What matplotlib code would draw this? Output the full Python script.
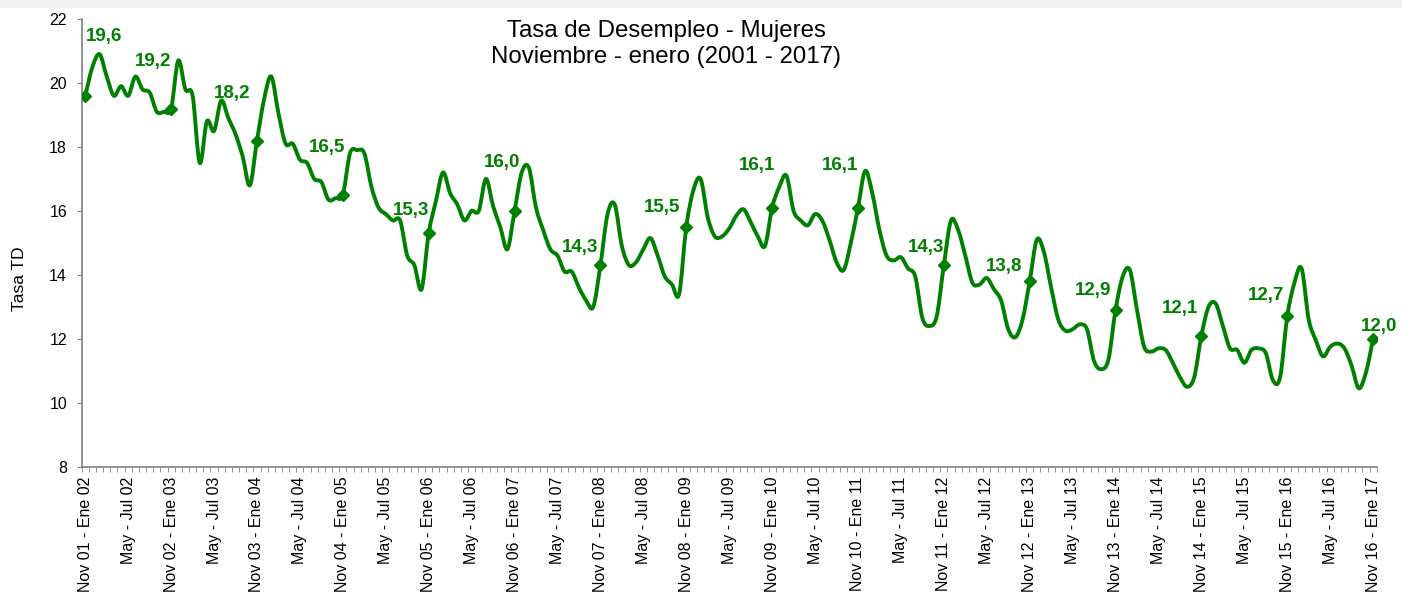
import numpy as np
import matplotlib
matplotlib.use("Agg")
import matplotlib.pyplot as plt
from matplotlib.path import Path
from matplotlib.patches import PathPatch, Rectangle

plt.rcParams["font.family"] = ["Liberation Sans", "DejaVu Sans"]

# Tasa de desempleo mujeres, trimestres móviles nov01-ene02 ... nov16-ene17
tasa = [
    19.6, 20.5, 20.9, 20.2, 19.6, 19.9, 19.6, 20.2, 19.8, 19.7, 19.1, 19.1,
    19.2, 20.7, 19.8, 19.6, 17.5, 18.8, 18.5, 19.45, 18.9, 18.4, 17.7, 16.8,
    18.2, 19.5, 20.2, 19.05, 18.1, 18.1, 17.6, 17.5, 17.0, 16.9, 16.35, 16.4,
    16.5, 17.8, 17.9, 17.8, 16.75, 16.1, 15.9, 15.7, 15.7, 14.6, 14.3, 13.55,
    15.3, 16.3, 17.2, 16.55, 16.2, 15.7, 16.0, 16.0, 17.0, 16.15, 15.5, 14.8,
    16.0, 17.2, 17.35, 16.1, 15.4, 14.8, 14.6, 14.1, 14.1, 13.6, 13.2, 13.0,
    14.3, 15.9, 16.2, 14.9, 14.3, 14.4, 14.8, 15.15, 14.6, 13.95, 13.7, 13.4,
    15.5, 16.65, 17.0, 15.8, 15.2, 15.2, 15.45, 15.85, 16.05, 15.65, 15.2, 14.9,
    16.1, 16.75, 17.1, 16.0, 15.7, 15.55, 15.9, 15.7, 15.1, 14.4, 14.15, 15.0,
    16.1, 17.25, 16.55, 15.4, 14.6, 14.45, 14.55, 14.2, 13.95, 12.65, 12.4, 12.7,
    14.3, 15.7, 15.4, 14.6, 13.75, 13.7, 13.9, 13.55, 13.2, 12.3, 12.05, 12.6,
    13.8, 15.1, 14.7, 13.6, 12.6, 12.25, 12.3, 12.45, 12.3, 11.3, 11.05, 11.35,
    12.9, 13.95, 14.15, 12.9, 11.75, 11.6, 11.7, 11.65, 11.25, 10.8, 10.5, 10.8,
    12.1, 13.0, 13.1, 12.4, 11.7, 11.65, 11.25, 11.65, 11.7, 11.55, 10.7, 10.8,
    12.7, 13.75, 14.2, 12.6, 11.95, 11.45, 11.75, 11.85, 11.7, 11.15, 10.45, 10.95,
    12.0,
]

# etiquetas del eje x (cada 6 trimestres móviles)
etiquetas_x = []
for a in range(1, 17):
    etiquetas_x.append(f"Nov {a:02d} - Ene {a + 1:02d}")
    if a < 16:
        etiquetas_x.append(f"May - Jul {a + 1:02d}")

# valores rotulados (trimestre nov-ene de cada año)
rotulos = ["19,6", "19,2", "18,2", "16,5", "15,3", "16,0", "14,3", "15,5",
           "16,1", "16,1", "14,3", "13,8", "12,9", "12,1", "12,7", "12,0"]
# desplazamiento de cada rótulo respecto al marcador (pixeles)
rot_dx = [19, -18, -25, -16, -18, -12, -20, -24, -15, -18, -18, -26, -22, -21, -21, 6]
rot_dy = [59, 47, 47, 47, 23, 48, 18, 19, 42, 42, 18, 15, 20, 27, 21, 12]

VERDE = "#008000"


def curva_suave(x, y):
    """Path bezier tipo Excel (catmull-rom) que pasa por todos los puntos."""
    n = len(x)
    verts = [(x[0], y[0])]
    codes = [Path.MOVETO]
    for i in range(n - 1):
        p0 = (x[max(i - 1, 0)], y[max(i - 1, 0)])
        p1 = (x[i], y[i])
        p2 = (x[i + 1], y[i + 1])
        p3 = (x[min(i + 2, n - 1)], y[min(i + 2, n - 1)])
        c1 = (p1[0] + (p2[0] - p0[0]) / 6, p1[1] + (p2[1] - p0[1]) / 6)
        c2 = (p2[0] - (p3[0] - p1[0]) / 6, p2[1] - (p3[1] - p1[1]) / 6)
        verts += [c1, c2, p2]
        codes += [Path.CURVE4] * 3
    return Path(verts, codes)


fig = plt.figure(figsize=(14.02, 5.94), dpi=100)
fig.patches.append(Rectangle((0, 1 - 7 / 594), 1, 7 / 594, transform=fig.transFigure,
                             color="#f2f2f2", zorder=0))
ax = fig.add_axes([81.7 / 1402, 1 - 466.7 / 594, 1295 / 1402, 447.7 / 594])

x = np.arange(len(tasa))
y = np.array(tasa)
ax.add_patch(PathPatch(curva_suave(x, y), facecolor="none", edgecolor=VERDE,
                       linewidth=2.8, capstyle="round", joinstyle="round", zorder=3))

idx_nov = x[::12]
ax.plot(idx_nov, y[::12], linestyle="none", marker="D", markersize=6.5,
        color=VERDE, zorder=4)
for k, i in enumerate(idx_nov):
    ax.annotate(rotulos[k], (i, y[i]), xytext=(rot_dx[k] * 0.72, rot_dy[k] * 0.72),
                textcoords="offset points", ha="center", va="center",
                fontsize=13.5, fontweight="bold", color=VERDE, zorder=5)

ax.set_xlim(-0.5, len(tasa) - 0.5)
ax.set_ylim(8, 22)
ax.set_yticks(np.arange(8, 23, 2))
ax.set_xticks(x[::6])
ax.set_xticklabels(etiquetas_x, rotation=90, fontsize=11.5)
ax.set_xticks(np.arange(-0.5, len(tasa), 1), minor=True)
ax.tick_params(axis="x", which="major", length=0, pad=7.2)
ax.tick_params(axis="x", which="minor", length=3.5, color="#808080")
ax.tick_params(axis="y", length=3.5, color="#808080", pad=7, labelsize=11.5)

for s in ["top", "right"]:
    ax.spines[s].set_visible(False)
for s in ["left", "bottom"]:
    ax.spines[s].set_color("#808080")
    ax.spines[s].set_linewidth(1.2)

ax.set_ylabel("Tasa TD", fontsize=12.5)
ax.yaxis.set_label_coords(-55 / 1295, (466.7 - 279) / 447.7)

fig.text(666 / 1402, 1 - 44 / 594, "Tasa de Desempleo - Mujeres\nNoviembre - enero (2001 - 2017)",
         ha="center", va="center", fontsize=17.3, linespacing=1.2)

fig.savefig("out.png", dpi=100)
